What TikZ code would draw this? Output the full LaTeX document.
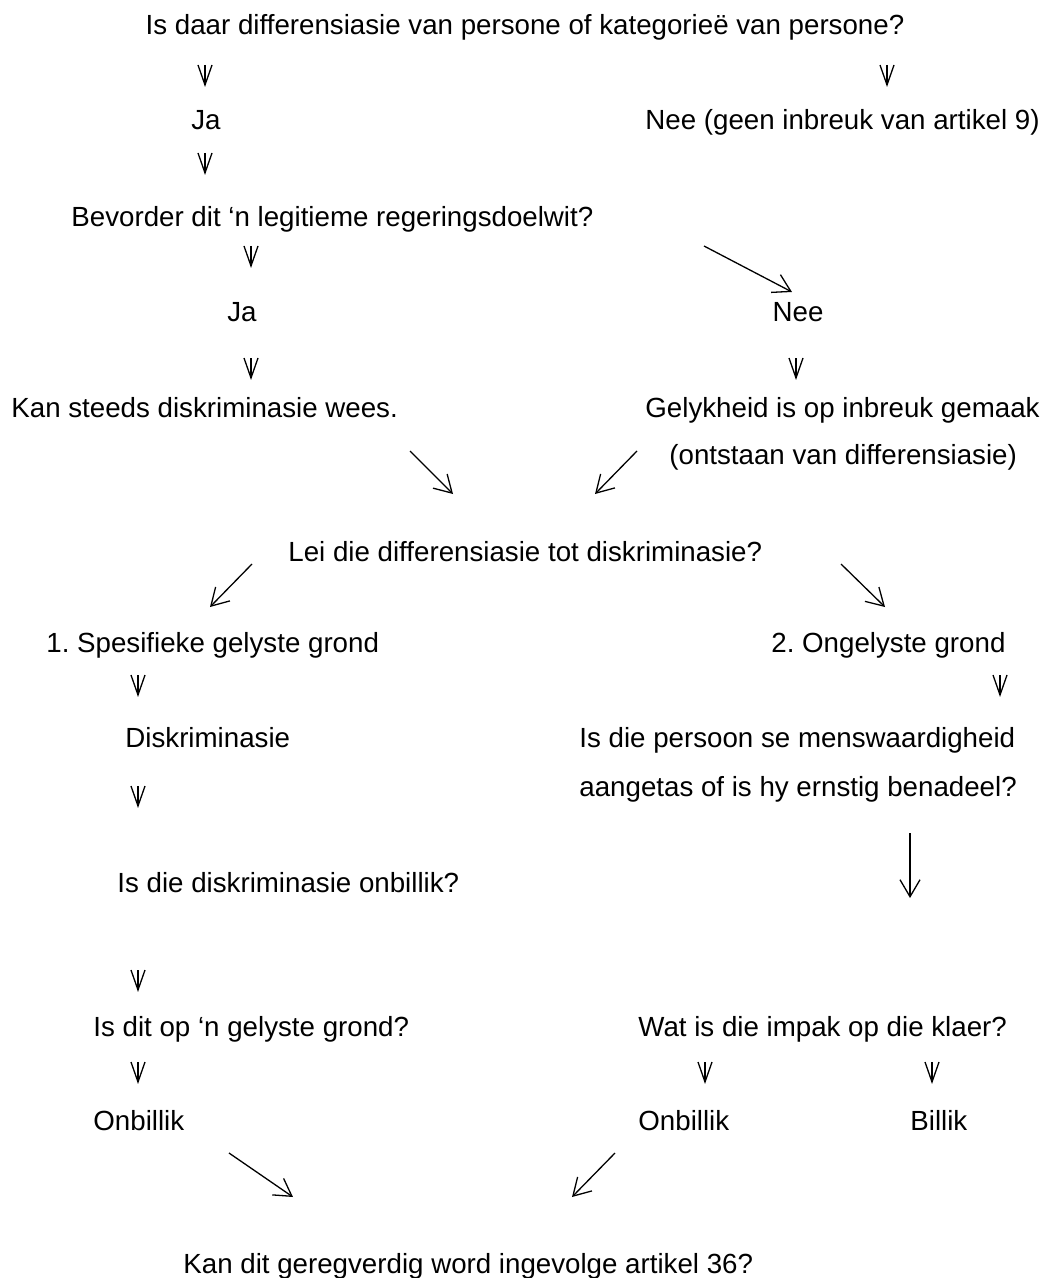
\documentclass[tikz,border=0pt]{standalone}
\usepackage{fontspec}
\setmainfont{Liberation Sans}
\usetikzlibrary{arrows.meta}
\begin{document}
\begin{tikzpicture}[x=0.5pt,y=-0.5pt,
  txt/.style={inner sep=0pt,anchor=west,text height=0.716em,text depth=0pt,
    font=\fontsize{13.85pt}{16pt}\selectfont},
  ctxt/.style={txt,anchor=center},
  small/.style={line width=0.65pt,line join=miter},
  long/.style={line width=0.65pt,-{Straight Barb[length=8.5pt,width=10pt]}}]
\useasboundingbox (0,0) rectangle (1040,1278);
% texts
\node[ctxt] (q1) at (525,27) {Is daar differensiasie van persone of kategorieë van persone?};
\node[ctxt] (ja1) at (206,122) {Ja};
\node[txt] (nee1) at (645,122) {Nee (geen inbreuk van artikel 9)};
\node[txt] (q2) at (71,219) {Bevorder dit ‘n legitieme regeringsdoelwit?};
\node[ctxt] (ja2) at (242,314) {Ja};
\node[ctxt] (nee2) at (798,314) {Nee};
\node[txt] (kan) at (11,410) {Kan steeds diskriminasie wees.};
\node[txt] (gel) at (645,410) {Gelykheid is op inbreuk gemaak};
\node[txt] (ont) at (669,457) {(ontstaan van differensiasie)};
\node[txt] (q3) at (288,554) {Lei die differensiasie tot diskriminasie?};
\node[txt] (spes) at (46,645) {1.\ Spesifieke gelyste grond};
\node[txt] (ong) at (771,645) {2.\ Ongelyste grond};
\node[txt] (disk) at (125,740) {Diskriminasie};
\node[txt] (pers1) at (579,740) {Is die persoon se menswaardigheid};
\node[txt] (pers2) at (579,789) {aangetas of is hy ernstig benadeel?};
\node[txt] (q4) at (117,885) {Is die diskriminasie onbillik?};
\node[txt] (q5) at (93,1029) {Is dit op ‘n gelyste grond?};
\node[txt] (q6) at (638,1029) {Wat is die impak op die klaer?};
\node[txt] (onb1) at (93,1123) {Onbillik};
\node[txt] (onb2) at (638,1123) {Onbillik};
\node[txt] (bil) at (910,1123) {Billik};
\node[txt] (q7) at (183,1266) {Kan dit geregverdig word ingevolge artikel 36?};
% small arrows
\foreach \n/\x/\y in {a1/205/75,a2/887/75,a3/205/163,a4/251/256,a5/251/368,a6/796/368,
  a7/138/685,a8/1000/685,a9/138/796,a10/138/980,a11/138/1072,a12/705/1072,a13/932/1072}{
  \coordinate (\n s) at (\x,\y-10);
  \coordinate (\n e) at (\x,\y+10);
  \draw[small] (\n s) -- (\n e);
  \draw[small] ([xshift=-3.5pt]\n s) -- (\n e) -- ([xshift=3.5pt]\n s);
}
% long arrows
\foreach \n/\xa/\ya/\xb/\yb in {b1/704/246/792/292,b2/410/451/453/494,b3/637/451/595/494,
  b4/252/564/210/607,b5/841/564/885/607,b6/910/833/910/898,b7/229/1153/293/1197,b8/615/1153/572/1197}{
  \coordinate (\n s) at (\xa,\ya);
  \coordinate (\n e) at (\xb,\yb);
  \draw[long] (\n s) -- (\n e);
}
\end{tikzpicture}
\end{document}
